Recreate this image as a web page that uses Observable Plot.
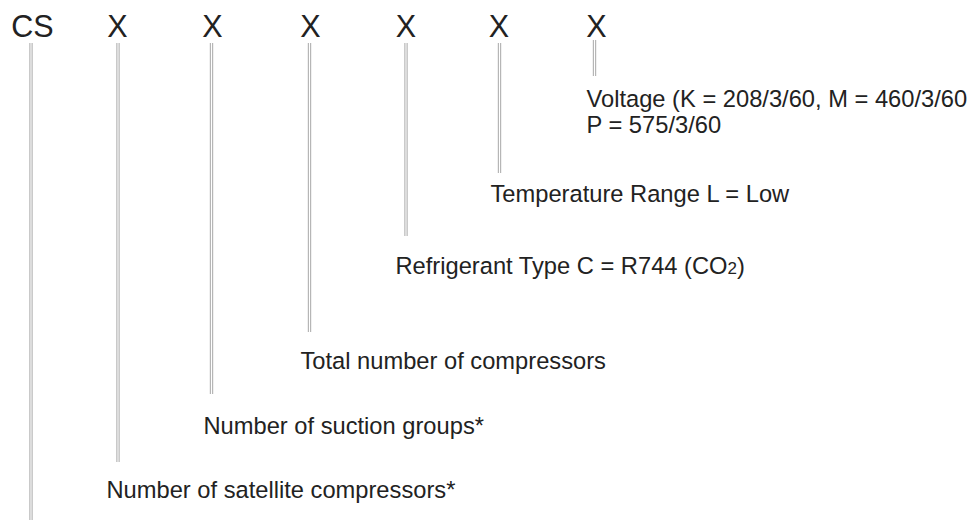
<!DOCTYPE html>
<html>
<head>
<meta charset="utf-8">
<script src="https://cdn.jsdelivr.net/npm/d3@7"></script>
<script src="https://cdn.jsdelivr.net/npm/@observablehq/plot@0.6"></script>
<style>
  html, body { margin: 0; padding: 0; background: #fff; }
  #chart svg { display: block; }
</style>
</head>
<body>
<div id="chart"></div>
<script>
// Model code letters and their horizontal positions
const codeLetters = ["CS", "X", "X", "X", "X", "X", "X"];
const codeX = [32, 117, 212, 310, 405.5, 498.5, 596];
const codeBaseline = 36;

// Leader lines (one per code position): top and bottom
const lineX = [30.5, 117.5, 211, 309, 405.5, 499, 594];
const lineTop = [43, 43, 43, 43, 43, 43, 40];
const lineBottom = [520, 462, 394, 332, 236, 173, 76];

// Explanatory labels (one per code position after "CS")
const labelText = [
  "Number of satellite compressors*",
  "Number of suction groups*",
  "Total number of compressors",
  "Refrigerant Type C = R744 (CO2)",
  "Temperature Range L = Low",
  "Voltage (K = 208/3/60, M = 460/3/60\nP = 575/3/60"
];
const labelX = [106, 203, 300, 395, 490, 586];
const labelBaseline = [496, 432, 367, 272, 200, 105];

const codes = codeLetters.map((t, i) => ({t, x: codeX[i], y: codeBaseline}));
const lines = lineX.map((x, i) => ({x, y1: lineTop[i], y2: lineBottom[i]}));
const labels = labelText.map((t, i) => ({t, x: labelX[i], y: labelBaseline[i]}));

const font = "'Liberation Sans', Arial, Helvetica, sans-serif";

const chart = Plot.plot({
  width: 972,
  height: 520,
  margin: 0,
  style: {background: "#fff", fontFamily: font, color: "#222"},
  x: {domain: [0, 972], range: [0, 972], axis: null},
  y: {domain: [0, 520], range: [0, 520], axis: null},
  marks: [
    Plot.ruleX(lines, {x: "x", y1: "y1", y2: "y2", stroke: "#b3b3b3", strokeWidth: 3.4}),
    Plot.ruleX(lines, {x: "x", y1: "y1", y2: "y2", stroke: "#fff", strokeWidth: 1.1}),
    Plot.text(codes, {x: "x", y: "y", text: "t", fontSize: 30.5, fill: "#222", textAnchor: "middle", lineAnchor: "bottom", fontFamily: font}),
    Plot.text(labels, {x: "x", y: "y", text: "t", fontSize: 23.7, fill: "#222", textAnchor: "start", lineAnchor: "top", lineHeight: 1.1, dy: -17, fontFamily: font})
  ]
});

// render the "2" in CO2 smaller
d3.select(chart).selectAll("text").each(function() {
  const el = d3.select(this);
  if (el.selectAll("tspan").empty() && el.text().includes("(CO2)")) {
    el.text(null);
    el.append("tspan").text("Refrigerant Type C = R744 (CO");
    el.append("tspan").attr("font-size", "17").text("2");
    el.append("tspan").text(")");
  }
});

document.getElementById("chart").appendChild(chart);
</script>
</body>
</html>
